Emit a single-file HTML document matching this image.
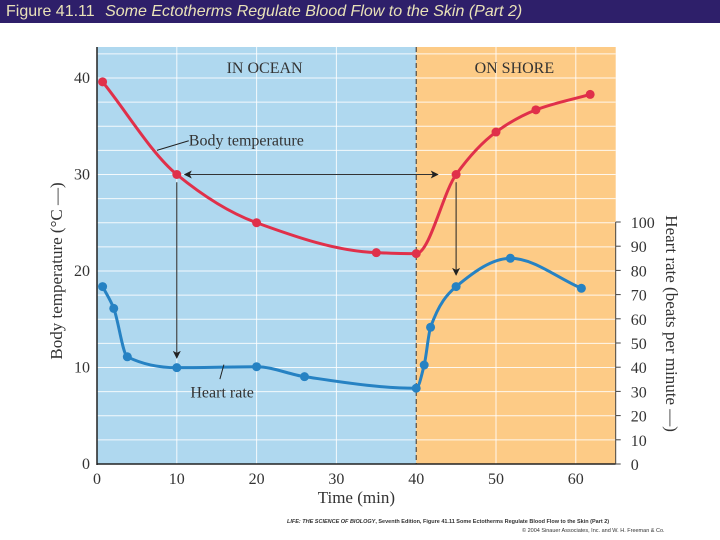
<!DOCTYPE html>
<html><head><meta charset="utf-8"><style>
body{margin:0;width:720px;height:540px;background:#fff;overflow:hidden;position:relative;font-family:"Liberation Serif",serif}
#title{position:absolute;left:0;top:0;width:720px;height:23px;background:#2e1f6a;color:#e9e2b8;font-family:"Liberation Sans",sans-serif;font-size:16px;line-height:23px;padding-left:6px;box-sizing:border-box;white-space:nowrap}
#title i{margin-left:6px}
svg{position:absolute;left:0;top:0}
.credit{position:absolute;left:287px;font-family:"Liberation Sans",sans-serif;font-size:5.5px;color:#333;white-space:nowrap}
</style></head><body>
<div id="title">Figure 41.11 <i>Some Ectotherms Regulate Blood Flow to the Skin (Part 2)</i></div>
<svg id="chart" width="720" height="540"></svg>
<div class="credit" style="top:519px"><b><i>LIFE: THE SCIENCE OF BIOLOGY</i>, Seventh Edition, Figure 41.11 Some Ectotherms Regulate Blood Flow to the Skin (Part 2)</b></div>
<div class="credit" style="top:528px;left:522px">© 2004 Sinauer Associates, Inc. and W. H. Freeman &amp; Co.</div>
<script>
const tempTimes=[0.7,10,20,35,40,45,50,55,61.8];
const tempValues=[39.6,30,25,21.9,21.8,30,34.4,36.7,38.3];
const hrTimes=[0.7,2.1,3.8,10,20,26,40,41,41.8,45,51.8,60.7];
const hrValues=[73.3,64.3,44.3,39.8,40.2,36.1,31.3,40.9,56.5,73.3,85,72.6];
const xTicks=[0,10,20,30,40,50,60];
const yTicks=[0,10,20,30,40];
const hrTicks=[0,10,20,30,40,50,60,70,80,90,100];

const X0=97,XS=7.98,Y0=464,YS=9.65;
const x=t=>X0+t*XS;
const y=v=>Y0-v*YS;
const yh=b=>Y0-b*2.42;
const svg=document.getElementById('chart');
const NS='http://www.w3.org/2000/svg';
function mk(tag,at,parent){const e=document.createElementNS(NS,tag);for(const k in at)e.setAttribute(k,at[k]);(parent||svg).appendChild(e);return e;}
const L=x(0),R=x(65),T=47,B=y(0);
let e;
e=mk('rect',{x:L,y:T,width:x(40)-L,height:B-T,fill:'#afd8ef'});


e=mk('rect',{x:x(40),y:T,width:R-x(40),height:B-T,fill:'#fdcb86'});


for(let v=2.5;v<43;v+=2.5){e=mk('line',{x1:L,x2:R,y1:y(v),y2:y(v),stroke:'#fff','stroke-width':1,opacity:0.85});

}
[10,20,30,50,60].forEach(t=>{e=mk('line',{x1:x(t),x2:x(t),y1:T,y2:B,stroke:'#fff','stroke-width':1,opacity:0.85});

});
e=mk('line',{x1:x(40),x2:x(40),y1:T,y2:B,stroke:'#333','stroke-width':1,'stroke-dasharray':'5,3'});


e=mk('line',{x1:L,x2:L,y1:T,y2:B+1,stroke:'#222','stroke-width':1.5});


e=mk('line',{x1:L,x2:R,y1:B,y2:B,stroke:'#222','stroke-width':1.5});


e=mk('line',{x1:R,x2:R,y1:yh(100),y2:B,stroke:'#444','stroke-width':1});


function txt(s,at,name){const t=mk('text',Object.assign({'font-family':'"Liberation Serif",serif','font-size':16,fill:'#333'},at));t.textContent=s;return t;}
xTicks.forEach(t=>txt(String(t),{x:x(t),y:B+20,'text-anchor':'middle'},'x-tick-label'));
yTicks.forEach(v=>txt(String(v),{x:L-7,y:y(v)+5,'text-anchor':'end'},'y-tick-label'));
hrTicks.forEach(b=>{e=mk('line',{x1:R,x2:R+5,y1:yh(b),y2:yh(b),stroke:'#444'});


txt(String(b),{x:R+15,y:yh(b)+6},'hr-tick-label');});
txt('Time (min)',{x:x(32.5),y:503,'text-anchor':'middle','font-size':17},'x-axis-title');
txt('Body temperature (°C —)',{x:62,y:y(20),'text-anchor':'middle','font-size':17,transform:`rotate(-90 62 ${y(20)})`},'y-axis-title-left');
txt('Heart rate (beats per minute —)',{x:666,y:yh(58),'text-anchor':'middle','font-size':17,transform:`rotate(90 666 ${yh(58)})`},'y-axis-title-right');
txt('IN OCEAN',{x:x(21),y:73,'text-anchor':'middle'},'in-ocean-label');
txt('ON SHORE',{x:x(52.3),y:73,'text-anchor':'middle'},'on-shore-label');
const defs=mk('defs',{});
const m=mk('marker',{id:'ah',markerWidth:8,markerHeight:8,refX:7,refY:4,orient:'auto-start-reverse'},defs);
mk('path',{d:'M0,0 L8,4 L0,8 L2,4 Z',fill:'#222'},m);
e=mk('line',{x1:x(11),x2:x(42.7),y1:y(30),y2:y(30),stroke:'#333','stroke-width':1,'marker-start':'url(#ah)','marker-end':'url(#ah)'});


e=mk('line',{x1:x(10),x2:x(10),y1:y(29.2),y2:y(11),stroke:'#222','stroke-width':1,'marker-end':'url(#ah)'});


e=mk('line',{x1:x(45),x2:x(45),y1:y(29.2),y2:y(19.6),stroke:'#222','stroke-width':1,'marker-end':'url(#ah)'});


function monotone(pts){const n=pts.length,dx=[],s=[],m=[];
for(let i=0;i<n-1;i++){dx[i]=pts[i+1][0]-pts[i][0];s[i]=(pts[i+1][1]-pts[i][1])/dx[i];}
m[0]=s[0];m[n-1]=s[n-2];
for(let i=1;i<n-1;i++){if(s[i-1]*s[i]<=0)m[i]=0;else{const w1=2*dx[i]+dx[i-1],w2=dx[i]+2*dx[i-1];m[i]=(w1+w2)/(w1/s[i-1]+w2/s[i]);}}
let d=`M${pts[0][0]},${pts[0][1]}`;
for(let i=0;i<n-1;i++){const h=dx[i]/3;d+=` C${pts[i][0]+h},${pts[i][1]+m[i]*h} ${pts[i+1][0]-h},${pts[i+1][1]-m[i+1]*h} ${pts[i+1][0]},${pts[i+1][1]}`;}
return d;}
function series(ts,vs,yf,col,name){const pts=ts.map((t,i)=>[x(t),yf(vs[i])]);
const p=mk('path',{d:monotone(pts),fill:'none',stroke:col,'stroke-width':3});


pts.forEach(q=>{const c=mk('circle',{cx:q[0],cy:q[1],r:4.5,fill:col});

});}
series(tempTimes,tempValues,y,'#e0304a','body-temperature');
series(hrTimes,hrValues,yh,'#2682c3','heart-rate');
e=mk('line',{x1:x(7.5),x2:x(11.5),y1:y(32.5),y2:y(33.5),stroke:'#222'});


txt('Body temperature',{x:x(11.5),y:y(33.5)+5},'body-temperature-label');
e=mk('line',{x1:x(15.9),x2:x(15.4),y1:y(10.3),y2:y(8.8),stroke:'#222'});


txt('Heart rate',{x:x(11.7),y:y(7.4)+5},'heart-rate-label');
</script>
</body></html>
